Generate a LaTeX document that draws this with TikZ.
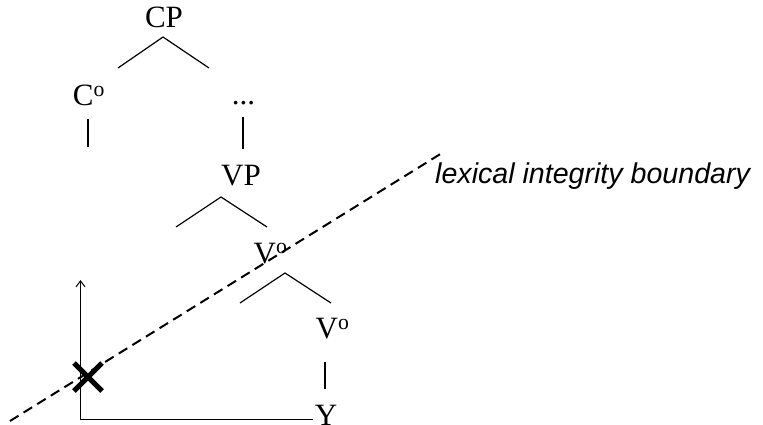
\documentclass[tikz,border=0pt]{standalone}
\usepackage{fontspec}
\setmainfont{Liberation Serif}
\newfontfamily\lab{Liberation Sans}
\usetikzlibrary{arrows.meta,calc}
\begin{document}
\begin{tikzpicture}[x=1pt,y=-1pt,
  lbl/.style={anchor=base,inner sep=0pt,font=\fontsize{31}{31}\selectfont},
  branch/.style={line width=1.2pt},
  bar/.style={line width=2pt},
  thin/.style={line width=1pt},
  bound/.style={line width=2pt,dash pattern=on 10pt off 6pt},
  xmark/.style={line width=5pt}]
\useasboundingbox (0,0) rectangle (763,425);
% labels
\node[lbl] (cp) at (164,27.5) {CP};
\node[lbl] (c0) at (89,105.5) {C\textsuperscript{o}};
\node[lbl] (dots) at (243.5,105) {...};
\node[lbl] (vp) at (241,185.5) {VP};
\node[lbl] (v1) at (270.5,263) {V\textsuperscript{o}};
\node[lbl] (v2) at (332.5,338.5) {V\textsuperscript{o}};
\node[lbl] (y) at (326,425) {Y};
\node[anchor=base west,inner sep=0pt,font=\lab\itshape\fontsize{28.6}{28.6}\selectfont] (lex) at (435,183) {lexical integrity boundary};
% branch coordinates
\coordinate (cpA) at (163,37); \coordinate (cpL) at (118,68); \coordinate (cpR) at (209,68);
\coordinate (vpA) at (221,197); \coordinate (vpL) at (176,227); \coordinate (vpR) at (267,227);
\coordinate (v1A) at (285,273); \coordinate (v1L) at (240,303); \coordinate (v1R) at (331,303);
\draw[branch] (cpL) -- (cpA) -- (cpR);
\draw[branch] (vpL) -- (vpA) -- (vpR);
\draw[branch] (v1L) -- (v1A) -- (v1R);
% bars
\coordinate (b1t) at (88,119); \coordinate (b1b) at (88,147);
\coordinate (b2t) at (243,117); \coordinate (b2b) at (243,149);
\coordinate (b3t) at (325,362); \coordinate (b3b) at (325,389);
\draw[bar] (b1t) -- (b1b);
\draw[bar] (b2t) -- (b2b);
\draw[bar] (b3t) -- (b3b);
% movement arrow
\coordinate (aE) at (313,419); \coordinate (aC) at (80.5,419); \coordinate (aT) at (80.5,280);
\draw[thin,-{Straight Barb[length=6pt,width=9pt,line width=1pt]}] (aE) -- (aC) -- (aT);
% boundary
\coordinate (d1) at (10,421); \coordinate (d2) at (442,153);
\draw[bound] (d1) -- (d2);
% X mark
\coordinate (xm) at (88,377);
\draw[xmark] ($(xm)+(-14,-14)$) -- ($(xm)+(14,14)$);
\draw[xmark] ($(xm)+(-14,14)$) -- ($(xm)+(14,-14)$);
\end{tikzpicture}
\end{document}
